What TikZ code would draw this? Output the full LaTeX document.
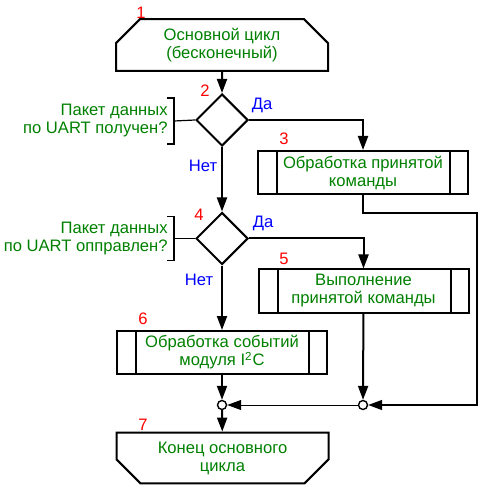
\documentclass[tikz,border=0pt]{standalone}
\usepackage{fontspec}
\setmainfont{Liberation Sans}
\usetikzlibrary{shapes.geometric, shapes.misc, arrows.meta, positioning, calc}
\definecolor{cText}{RGB}{0,128,0}
\definecolor{cNum}{RGB}{255,0,0}
\definecolor{cAns}{RGB}{0,0,255}
\tikzset{
	term/.style   ={chamfered rectangle, chamfered rectangle xsep=8.5pt, minimum width=106pt, minimum height=22pt, align=center, draw=black, line width=1pt, text=cText, inner sep=1pt},
	proc/.style   ={rectangle, minimum width=105pt, minimum height=21.5pt, align=center, draw=black, line width=1pt, text=cText, inner sep=1pt,
		path picture={\draw[line width=1pt] ([xshift=9.5pt]path picture bounding box.north west) -- ([xshift=9.5pt]path picture bounding box.south west)
			([xshift=-9pt]path picture bounding box.north east) -- ([xshift=-9pt]path picture bounding box.south east);}},
	quest/.style  ={diamond, aspect=1, minimum width=26pt, minimum height=26pt, draw=black, line width=1pt, inner sep=0pt},
	qtext/.style  ={align=right, text=cText, inner sep=0pt, anchor=east},
	junc/.style   ={circle, draw=black, line width=0.7pt, fill=white, minimum size=4.5pt, inner sep=0pt},
	num/.style    ={text=cNum, inner sep=0pt},
	ans/.style    ={text=cAns, inner sep=0pt},
	% connectors
	sig/.style    ={-{Triangle[length=7pt, width=5pt]}, line width=1pt},
	retl/.style   ={-{Triangle[length=7pt, width=5pt]}, line width=0.75pt},
	brk/.style    ={line width=0.6pt},
}
\begin{document}
\begin{tikzpicture}[x=0.5pt, y=-0.5pt, font=\fontsize{8.3}{9}\selectfont]
	\useasboundingbox (0,0) rectangle (485,485);
	\node[term, chamfered rectangle corners={north west, north east}] (t1) at (222,45) {Основной цикл\\(бесконечный)};
	\node[quest] (q2) at (222,120) {};
	\node[proc] (p3) at (363,172.5) {Обработка принятой\\команды};
	\node[quest] (q4) at (222,238.5) {};
	\node[proc] (p5) at (363.5,291) {Выполнение\\принятой команды};
	\node[proc] (p6) at (222,352.5) {Обработка событий\\модуля I\textsuperscript{2}C};
	\node[junc] (j1) at (222,405) {};
	\node[junc] (j2) at (363,405) {};
	\node[term, chamfered rectangle corners={south west, south east}] (t7) at (222.5,458) {Конец основного\\цикла};
	% questions
	\node[qtext] (l2) at (168,121) {Пакет данных\\по UART получен?};
	\node[qtext] (l4) at (168,238.5) {Пакет данных\\по UART опправлен?};
	\coordinate (b2) at (174,121);
	\coordinate (b4) at (174,238.5);
	\draw[brk] (q2.west) -- (b2);
	\draw[brk] ($(b2)+(-7,-23)$) -- ++(7,0) -- ++(0,46) -- ++(-7,0);
	\draw[brk] (q4.west) -- (b4);
	\draw[brk] ($(b4)+(-7,-22)$) -- ++(7,0) -- ++(0,44) -- ++(-7,0);
	% numbers
	\node[num] (n1) at (141,13) {1};
	\node[num] (n2) at (205,91) {2};
	\node[num] (n3) at (284,139) {3};
	\node[num] (n4) at (199,215) {4};
	\node[num] (n5) at (284,259) {5};
	\node[num] (n6) at (143,319) {6};
	\node[num] (n7) at (143,425) {7};
	\node[ans] (a2) at (262,105) {Да};
	\node[ans] (a4) at (263,223) {Да};
	\node[ans] (e2) at (203,166) {Нет};
	\node[ans] (e4) at (199,280) {Нет};
	% flow
	\coordinate (r1) at (477,213);
	\coordinate (r2) at (477,405);
	\draw[sig] (t1) -- (q2);
	\draw[sig] (q2.east) -| (p3);
	\draw[sig] (q2) -- (q4);
	\draw[sig] (q4.east) -| (p5);
	\draw[sig] (q4) -- (p6);
	\draw[sig] (p6) -- (j1);
	\draw[sig] (j1) -- (t7);
	\draw[sig] (p5) -- (j2);
	\draw[retl] (p3.south) |- (r1) -- (r2) -- (j2);
	\draw[-{Triangle[length=7pt, width=5pt]}, line width=0.5pt] (j2) -- (j1);
\end{tikzpicture}
\end{document}
